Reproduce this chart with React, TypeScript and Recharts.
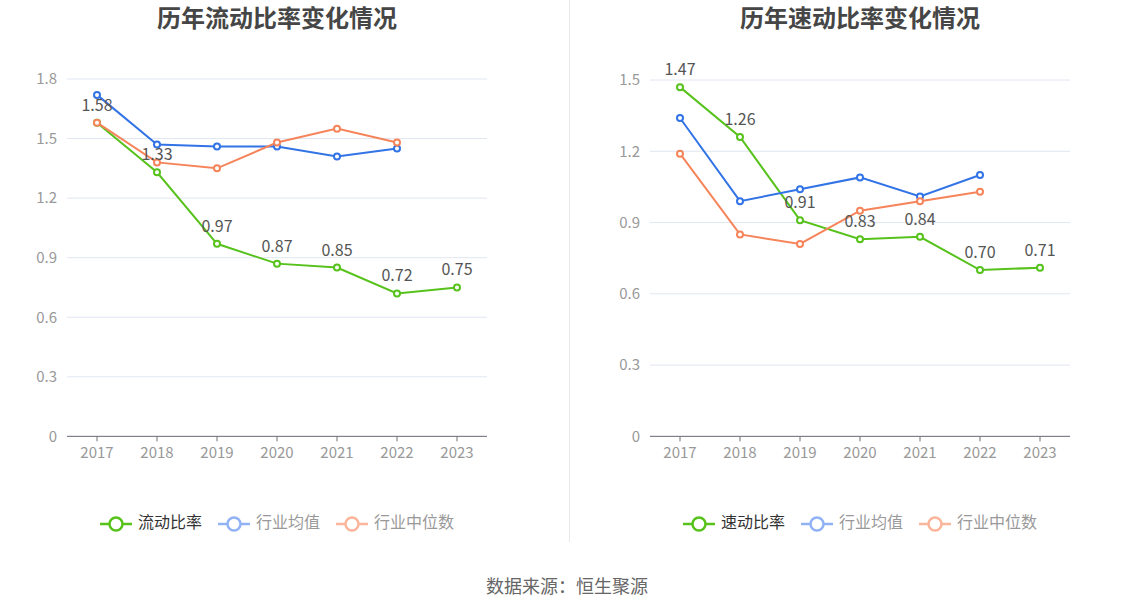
import React from 'react';
import { LineChart, Line, XAxis, YAxis, CartesianGrid, LabelList, Legend } from 'recharts';

const years = ['2017', '2018', '2019', '2020', '2021', '2022', '2023'];

// 流动比率
const currentRatio = [1.58, 1.33, 0.97, 0.87, 0.85, 0.72, 0.75];
const currentIndustryAvg = [1.72, 1.47, 1.46, 1.46, 1.41, 1.45, null];
const currentIndustryMedian = [1.58, 1.38, 1.35, 1.48, 1.55, 1.48, null];
const currentTicks = [0, 0.3, 0.6, 0.9, 1.2, 1.5, 1.8];

// 速动比率
const quickRatio = [1.47, 1.26, 0.91, 0.83, 0.84, 0.7, 0.71];
const quickIndustryAvg = [1.34, 0.99, 1.04, 1.09, 1.01, 1.1, null];
const quickIndustryMedian = [1.19, 0.85, 0.81, 0.95, 0.99, 1.03, null];
const quickTicks = [0, 0.3, 0.6, 0.9, 1.2, 1.5];

const GREEN = '#56c21b';
const BLUE = '#3273e6';
const ORANGE = '#f6845a';
const FONT = '"Noto Sans CJK SC", "Noto Sans", sans-serif';

const buildRows = (main: number[], avg: (number | null)[], median: (number | null)[]) =>
  years.map((year, i) => ({ year, main: main[i], avg: avg[i], median: median[i] }));

const LegendIcon = ({ color }: { color: string }) => (
  <svg width={32} height={16} style={{ verticalAlign: 'middle', marginRight: 6 }}>
    <line x1={0} y1={8} x2={32} y2={8} stroke={color} strokeWidth={2.5} />
    <circle cx={16} cy={8} r={6.5} fill="#fff" stroke={color} strokeWidth={2.5} />
  </svg>
);

const makeLegend = (mainName: string) => () => (
  <div style={{ display: 'flex', justifyContent: 'center', fontFamily: FONT, fontSize: 16, lineHeight: '20px' }}>
    <span style={{ marginRight: 16, color: '#333' }}>
      <LegendIcon color={GREEN} />
      {mainName}
    </span>
    <span style={{ marginRight: 16, color: '#999' }}>
      <LegendIcon color="#91b2f4" />
      行业均值
    </span>
    <span style={{ color: '#999' }}>
      <LegendIcon color="#fbb59b" />
      行业中位数
    </span>
  </div>
);

interface PanelProps {
  title: string;
  mainName: string;
  rows: any[];
  ticks: number[];
  left: number;
  marginLeft: number;
  marginRight: number;
  marginTop: number;
  width: number;
}

const Panel: React.FC<PanelProps> = ({ title, mainName, rows, ticks, left, marginLeft, marginRight, marginTop, width }) => {
  const plotLeft = marginLeft + 50;
  const plotCenter = plotLeft + (width - plotLeft - marginRight) / 2;
  return (
    <div style={{ position: 'absolute', left, top: 0, width, height: 612 }}>
      <div
        style={{
          position: 'absolute',
          top: 0,
          left: plotCenter - 200,
          width: 400,
          textAlign: 'center',
          fontFamily: FONT,
          fontWeight: 'bold',
          fontSize: 24,
          lineHeight: '34px',
          color: '#464646',
        }}
      >
        {title}
      </div>
      <LineChart
        width={width}
        height={612}
        data={rows}
        margin={{ top: marginTop, right: marginRight, left: marginLeft, bottom: 125 }}
        style={{ fontFamily: FONT }}
      >
        <CartesianGrid vertical={false} stroke="#e0e6f1" />
        <XAxis
          dataKey="year"
          scale="band"
          height={30}
          axisLine={{ stroke: '#6e7079' }}
          tickLine={{ stroke: '#6e7079' }}
          tickSize={5}
          tickMargin={6}
          tick={{ fill: '#999', fontSize: 15 }}
        />
        <YAxis
          width={50}
          domain={[ticks[0], ticks[ticks.length - 1]]}
          ticks={ticks}
          axisLine={false}
          tickLine={false}
          tickSize={0}
          tickMargin={10}
          tick={{ fill: '#999', fontSize: 15 }}
        />
        <Legend
          content={makeLegend(mainName)}
          verticalAlign="bottom"
          wrapperStyle={{ left: plotCenter - 250, width: 500, bottom: 80 }}
        />
        <Line
          dataKey="main"
          stroke={GREEN}
          strokeWidth={2}
          dot={{ r: 3, fill: '#fff', stroke: GREEN, strokeWidth: 2 }}
          isAnimationActive={false}
        >
          <LabelList
            dataKey="main"
            position="top"
            offset={12}
            fill="#555"
            fontSize={16}
            formatter={(v: any) => Number(v).toFixed(2)}
          />
        </Line>
        <Line
          dataKey="avg"
          stroke={BLUE}
          strokeWidth={2}
          dot={{ r: 3, fill: '#fff', stroke: BLUE, strokeWidth: 2 }}
          isAnimationActive={false}
        />
        <Line
          dataKey="median"
          stroke={ORANGE}
          strokeWidth={2}
          dot={{ r: 3, fill: '#fff', stroke: ORANGE, strokeWidth: 2 }}
          isAnimationActive={false}
        />
      </LineChart>
    </div>
  );
};

const App: React.FC = () => (
  <div style={{ position: 'absolute', left: 0, top: 0, width: 1134, height: 612, background: '#fff', overflow: 'hidden' }}>
    <Panel
      title="历年流动比率变化情况"
      mainName="流动比率"
      rows={buildRows(currentRatio, currentIndustryAvg, currentIndustryMedian)}
      ticks={currentTicks}
      left={0}
      width={567}
      marginLeft={17}
      marginRight={80}
      marginTop={79}
    />
    <div style={{ position: 'absolute', left: 569, top: 0, width: 1, height: 542, background: '#e8e8e8' }} />
    <Panel
      title="历年速动比率变化情况"
      mainName="速动比率"
      rows={buildRows(quickRatio, quickIndustryAvg, quickIndustryMedian)}
      ticks={quickTicks}
      left={567}
      width={567}
      marginLeft={33}
      marginRight={64}
      marginTop={80}
    />
    <div
      style={{
        position: 'absolute',
        top: 572,
        left: 0,
        width: 1134,
        textAlign: 'center',
        fontFamily: FONT,
        fontSize: 18,
        lineHeight: '26px',
        color: '#666',
      }}
    >
      数据来源：恒生聚源
    </div>
  </div>
);

export default App;
